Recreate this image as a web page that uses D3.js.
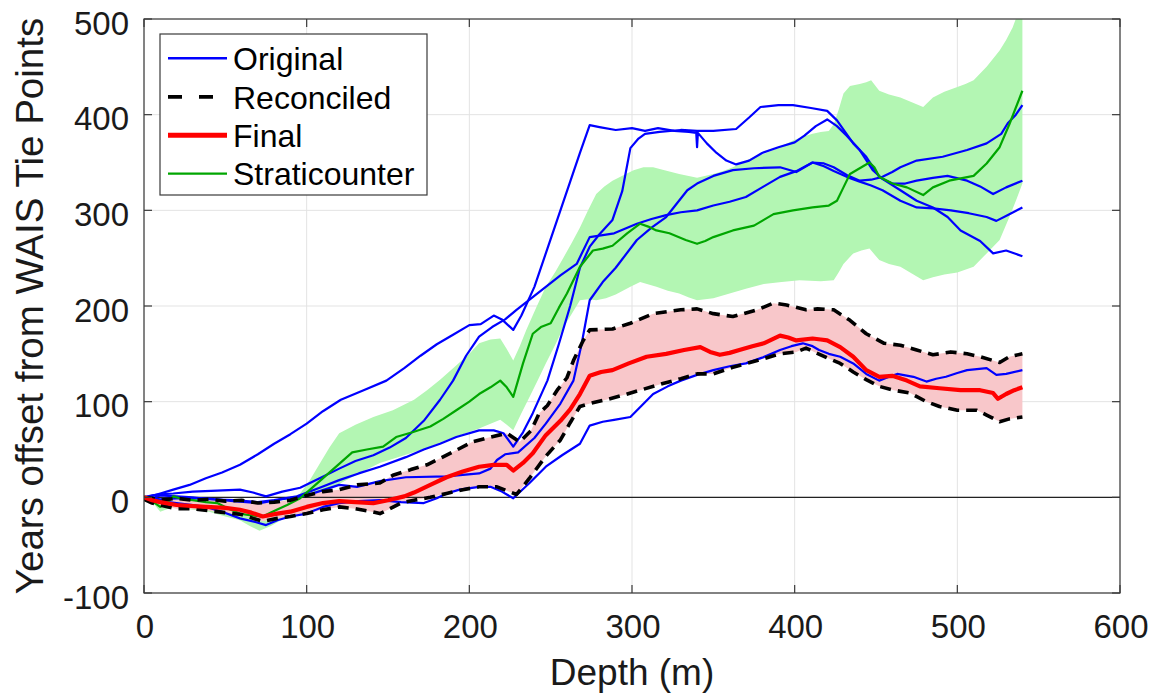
<!DOCTYPE html>
<html>
<head>
<meta charset="utf-8">
<script src="https://cdn.jsdelivr.net/npm/d3@7"></script>
<style>
  html, body { margin: 0; padding: 0; background: #fff; }
  svg { display: block; font-family: "Liberation Sans", Arial, Helvetica, sans-serif; }
</style>
</head>
<body>
<svg id="chart" width="1156" height="696"></svg>
<script>
// ---------------- DATA (depth m, years offset) ----------------
const xTicks = [0, 100, 200, 300, 400, 500, 600];
const yTicks = [-100, 0, 100, 200, 300, 400, 500];
const legendLabels = ["Original", "Reconciled", "Final", "Straticounter"];

const original1 = [[0,0],[4,1],[10,4],[18,8],[28,13],[38,20],[48,26],[59,34],[70,45],[80,56],[90,66],[100,77],[110,90],[121,102],[135,112],[149,122],[160,135],[170,148],[180,160],[190,170],[200,180],[207,181],[215,190],[220,186],[227,175],[232,190],[240,220],[248,260],[255,295],[262,330],[268,360],[274,389],[280,387],[290,384],[300,386],[308,383],[316,386],[326,383],[335,382],[339.5,381],[340,366],[340.5,381],[346,370],[352,360],[358,352],[364,348],[372,352],[380,360],[390,366],[400,371],[406,378],[413,388],[420,395],[426,388],[432,378],[440,363],[448,342],[454,333],[460,328],[468,328],[475,331],[485,334],[494,336],[506,331],[514,325],[522,317],[530,324],[540,331]];

const original2 = [[0,0],[5,2],[10,3],[18,4],[30,6],[45,7],[59,8],[67,5],[75,1],[85,6],[96,10],[108,20],[120,30],[130,38],[141,44],[151,52],[161,62],[172,80],[182,102],[190,122],[198,148],[206,168],[214,178],[222,186],[229,196],[238,208],[247,220],[256,232],[266,244],[270,258],[274,272],[282,274],[289,276],[296,281],[303,286],[312,291],[321,295],[330,298],[340,300],[350,305],[360,309],[370,314],[380,324],[391,335],[401,341],[411,350],[418,349],[424,345],[432,337],[440,331],[447,332],[454,335],[460,340],[465,345],[475,352],[491,356],[506,363],[518,370],[527,380],[531,391],[536,400],[540,410]];

const original3 = [[0,0],[5,-1],[10,2],[20,1],[30,0],[40,-2],[55,-3],[70,-5],[80,-3],[94,1],[108,10],[120,18],[132,25],[145,32],[161,42],[172,50],[182,56],[192,63],[206,70],[215,70],[221,67],[227,53],[233,68],[239,88],[248,122],[255,160],[262,200],[268,240],[274,262],[280,275],[288,290],[294,320],[299,365],[304,375],[308,380],[317,382],[330,384],[340,383],[350,383],[364,385],[372,397],[379,408],[390,410],[399,410],[410,407],[420,404],[426,394],[436,370],[444,356],[452,335],[465,321],[475,310],[485,303],[494,293],[502,279],[514,268],[522,255],[530,258],[540,252]];

const original4 = [[0,0],[10,-2],[20,-1],[38,-1],[55,-4],[71,-6],[85,-2],[100,2],[120,13],[131,11],[145,17],[161,21],[186,22],[206,25],[213,30],[217,39],[222,45],[230,47],[240,62],[247,77],[256,98],[264,122],[269,160],[274,206],[282,225],[290,240],[303,269],[312,282],[321,293],[334,321],[340,328],[350,336],[362,342],[375,344],[391,345],[401,340],[411,350],[418,346],[424,341],[432,335],[440,330],[447,326],[454,321],[465,310],[475,303],[485,302],[496,300],[507,297],[518,293],[524,289],[532,296],[540,303]];

const original5 = [[0,0],[5,-2],[10,-4],[20,-6],[30,-8],[38,-10],[48,-15],[59,-22],[69,-26],[75,-29],[82,-24],[90,-20],[100,-17],[110,-10],[120,-6],[132,-4],[145,-3],[158,-5],[172,-6],[180,-1],[186,4],[194,8],[206,11],[213,11],[220,6],[227,-1],[237,15],[247,32],[257,44],[268,56],[274,75],[282,79],[289,81],[299,84],[306,96],[313,108],[322,116],[330,122],[340,128],[350,133],[360,137],[370,140],[380,146],[391,154],[398,158],[405,161],[411,158],[415,154],[421,150],[428,147],[436,140],[444,129],[452,122],[458,126],[463,129],[473,126],[481,121],[487,124],[493,126],[500,130],[506,133],[518,135],[524,128],[530,129],[540,133]];

const finalLine = [[0,0],[5,-3],[10,-5],[20,-8],[38,-10],[50,-11],[59,-13],[66,-16],[73,-20],[82,-17],[90,-15],[100,-10],[110,-6],[120,-4],[130,-5],[141,-6],[150,-3],[160,1],[166,5],[176,13],[186,21],[196,27],[206,32],[215,34],[223,34],[227,28],[233,36],[239,46],[247,65],[256,80],[262,92],[268,108],[274,127],[281,131],[288,133],[298,140],[309,147],[321,150],[332,154],[342,157],[348,152],[354,149],[360,151],[366,154],[374,158],[381,161],[391,169],[396,167],[401,164],[411,166],[416,165],[420,164],[428,157],[436,147],[444,133],[452,126],[460,127],[469,122],[477,116],[489,114],[502,112],[514,112],[522,109],[525,103],[530,108],[535,112],[540,115]];

const reconciledUpper = [[0,0],[5,-1],[10,-3],[20,-1],[30,-3],[40,-2],[50,-4],[60,-3],[70,-6],[80,-5],[90,-3],[100,2],[110,6],[120,8],[131,13],[145,15],[153,23],[164,29],[174,34],[186,44],[202,58],[213,63],[223,67],[231,58],[238,70],[243,88],[248,96],[254,112],[260,125],[264,143],[270,164],[274,175],[288,176],[299,182],[313,192],[330,196],[340,197],[350,192],[362,189],[377,196],[387,203],[395,201],[407,196],[414,197],[424,196],[434,185],[444,171],[455,161],[465,159],[475,154],[485,149],[496,152],[506,150],[514,147],[522,143],[526,141],[532,147],[540,150]];

const reconciledLower = [[0,-2],[5,-6],[10,-8],[20,-12],[30,-12],[40,-14],[50,-16],[60,-18],[67,-22],[73,-25],[82,-22],[90,-20],[100,-17],[110,-13],[120,-10],[130,-12],[140,-15],[145,-17],[150,-13],[158,-6],[166,-3],[176,0],[186,4],[196,8],[206,11],[217,11],[223,7],[229,3],[237,20],[247,43],[256,60],[262,78],[268,95],[274,98],[284,102],[295,107],[305,112],[319,119],[330,124],[340,129],[350,129],[362,136],[377,143],[391,150],[401,152],[407,156],[412,152],[421,145],[428,140],[436,131],[444,123],[452,116],[461,112],[471,109],[481,100],[489,95],[500,91],[512,91],[518,86],[526,79],[532,82],[540,84]];

const stratiLine = [[0,0],[5,-4],[10,-10],[14,-6],[18,1],[24,-2],[30,-3],[38,-5],[45,-6],[52,-12],[59,-17],[66,-19],[73,-20],[79,-15],[88,-8],[96,-1],[104,11],[112,23],[120,35],[128,47],[137,50],[147,53],[155,63],[165,68],[176,74],[184,82],[192,91],[200,100],[206,108],[213,115],[219,122],[223,115],[227,105],[233,140],[239,171],[244,178],[250,182],[255,198],[260,213],[268,241],[276,258],[282,260],[288,263],[297,276],[305,286],[310,283],[315,279],[323,276],[333,269],[340,265],[345,268],[350,272],[362,279],[375,284],[381,290],[387,296],[399,300],[411,303],[421,305],[426,310],[430,324],[434,338],[440,344],[446,350],[449,345],[452,335],[460,328],[469,324],[479,316],[485,324],[495,331],[510,336],[518,349],[526,366],[532,390],[540,425]];

const stratiUpper = [[0,0],[5,-1],[10,-5],[18,3],[25,0],[40,-1],[55,-5],[70,-8],[80,-6],[90,-2],[96,4],[102,18],[108,35],[114,52],[120,67],[130,76],[141,84],[153,91],[166,102],[174,112],[182,123],[190,135],[200,150],[206,161],[213,165],[219,166],[223,155],[227,143],[231,158],[235,175],[241,198],[247,220],[253,236],[258,251],[263,266],[268,282],[273,300],[278,317],[283,325],[288,331],[295,337],[301,342],[307,345],[313,345],[320,342],[329,338],[340,334],[350,338],[356,341],[362,345],[368,350],[375,356],[381,359],[387,363],[393,368],[399,373],[405,377],[411,380],[416,382],[421,383],[424,390],[427,405],[430,422],[434,430],[440,432],[444,434],[447,436],[452,425],[458,421],[465,418],[472,413],[479,408],[485,418],[492,424],[500,429],[505,432],[510,436],[518,450],[526,467],[530,478],[534,491],[537,505],[540,525]];

const stratiLower = [[0,-2],[5,-5],[10,-15],[18,-10],[25,-12],[40,-15],[50,-20],[59,-24],[65,-30],[71,-35],[78,-30],[86,-22],[96,-12],[104,-2],[112,6],[120,14],[132,25],[145,36],[160,44],[175,52],[186,60],[196,66],[206,72],[213,77],[219,81],[223,76],[227,70],[232,88],[237,105],[242,122],[247,140],[253,160],[258,178],[263,192],[268,206],[273,207],[278,206],[284,208],[290,212],[299,220],[305,225],[315,220],[322,216],[329,213],[335,209],[340,206],[350,208],[360,213],[370,218],[381,223],[392,225],[403,227],[416,226],[424,227],[427,235],[430,244],[436,255],[441,258],[446,260],[452,248],[458,244],[465,241],[472,234],[479,227],[485,230],[492,233],[500,235],[510,241],[518,255],[526,269],[532,293],[536,310],[540,328]];

// ---------------- LAYOUT ----------------
const svg = d3.select("#chart");
const L = 144, R = 1120, T = 19, B = 593;
const x = d3.scaleLinear().domain([0, 600]).range([L, R]);
const y = d3.scaleLinear().domain([-100, 500]).range([B, T]);
const FONT = '"Liberation Sans", Arial, Helvetica, sans-serif';
const TXT = "#1a1a1a";

svg.append("rect").attr("width", 1156).attr("height", 696).attr("fill", "#fff");

svg.append("defs").append("clipPath").attr("id", "plotclip")
  .append("rect").attr("x", L).attr("y", T).attr("width", R - L).attr("height", B - T);

// grid
const grid = svg.append("g");
xTicks.forEach(t => {
  grid.append("line").attr("x1", x(t)).attr("x2", x(t)).attr("y1", T).attr("y2", B)
    .attr("stroke", "#e3e3e3").attr("stroke-width", 1);
});
yTicks.forEach(t => {
  grid.append("line").attr("x1", L).attr("x2", R).attr("y1", y(t)).attr("y2", y(t))
    .attr("stroke", "#e3e3e3").attr("stroke-width", 1);
});

const plot = svg.append("g").attr("clip-path", "url(#plotclip)");
const line = d3.line().x(d => x(d[0])).y(d => y(d[1]));

function band(upper, lower) {
  return line(upper.concat(lower.slice().reverse())) + "Z";
}

// fills
plot.append("path").attr("d", band(stratiUpper, stratiLower))
  .attr("fill", "#b3f6b3").attr("stroke", "none");
plot.append("path").attr("d", band(reconciledUpper, reconciledLower))
  .attr("fill", "#f8c7ca").attr("stroke", "none");

// zero line
plot.append("line").attr("x1", L).attr("x2", R).attr("y1", y(0)).attr("y2", y(0))
  .attr("stroke", "#222").attr("stroke-width", 1.1);

// blue originals
[original1, original2, original3, original4, original5].forEach(s => {
  plot.append("path").attr("d", line(s)).attr("fill", "none")
    .attr("stroke", "#0000ff").attr("stroke-width", 2.2).attr("stroke-linejoin", "round");
});

// straticounter
plot.append("path").attr("d", line(stratiLine)).attr("fill", "none")
  .attr("stroke", "#00a600").attr("stroke-width", 2.2).attr("stroke-linejoin", "round");

// reconciled dashed
[reconciledUpper, reconciledLower].forEach(s => {
  plot.append("path").attr("d", line(s)).attr("fill", "none")
    .attr("stroke", "#000").attr("stroke-width", 3.6)
    .attr("stroke-dasharray", "11,7").attr("stroke-linejoin", "round");
});

// final
plot.append("path").attr("d", line(finalLine)).attr("fill", "none")
  .attr("stroke", "#ff0000").attr("stroke-width", 4.2).attr("stroke-linejoin", "round");

// axes box + ticks
const ax = svg.append("g").attr("stroke", "#3a3a3a").attr("stroke-width", 1.2);
ax.append("rect").attr("x", L).attr("y", T).attr("width", R - L).attr("height", B - T).attr("fill", "none");
const tl = 8;
xTicks.forEach(t => {
  ax.append("line").attr("x1", x(t)).attr("x2", x(t)).attr("y1", B).attr("y2", B - tl);
  ax.append("line").attr("x1", x(t)).attr("x2", x(t)).attr("y1", T).attr("y2", T + tl);
});
yTicks.forEach(t => {
  ax.append("line").attr("x1", L).attr("x2", L + tl).attr("y1", y(t)).attr("y2", y(t));
  ax.append("line").attr("x1", R).attr("x2", R - tl).attr("y1", y(t)).attr("y2", y(t));
});

// tick labels
xTicks.forEach(t => {
  svg.append("text").attr("x", x(t) + 1).attr("y", 638).attr("text-anchor", "middle")
    .attr("font-size", 33).attr("fill", TXT).attr("font-family", FONT).text(t);
});
yTicks.forEach(t => {
  svg.append("text").attr("x", 129).attr("y", y(t) + 15.5).attr("text-anchor", "end")
    .attr("font-size", 33).attr("fill", TXT).attr("font-family", FONT).text(t);
});

// axis labels
svg.append("text").attr("x", (L + R) / 2).attr("y", 685).attr("text-anchor", "middle")
  .attr("font-size", 37).attr("fill", TXT).attr("font-family", FONT).text("Depth (m)");
svg.append("text").attr("transform", `translate(43,${(T + B) / 2}) rotate(-90)`)
  .attr("text-anchor", "middle").attr("font-size", 38.5).attr("fill", TXT)
  .attr("font-family", FONT).text("Years offset from WAIS Tie Points");

// legend
const lg = svg.append("g");
lg.append("rect").attr("x", 160).attr("y", 34).attr("width", 267).attr("height", 161)
  .attr("fill", "#fff").attr("stroke", "#3a3a3a").attr("stroke-width", 1.2);
const rowsY = [58.3, 96.8, 135.2, 173.6];
const styles = [
  { stroke: "#0000ff", w: 2.4, dash: null },
  { stroke: "#000", w: 3.8, dash: "14,17" },
  { stroke: "#ff0000", w: 5, dash: null },
  { stroke: "#00a600", w: 2.4, dash: null }
];
legendLabels.forEach((lab, i) => {
  const s = styles[i];
  const ln = lg.append("line").attr("x1", 168).attr("x2", 227).attr("y1", rowsY[i]).attr("y2", rowsY[i])
    .attr("stroke", s.stroke).attr("stroke-width", s.w);
  if (s.dash) ln.attr("stroke-dasharray", s.dash);
  lg.append("text").attr("x", 233).attr("y", rowsY[i] + 11.7).attr("font-size", 32)
    .attr("fill", "#000").attr("font-family", FONT).text(lab);
});
</script>
</body>
</html>
